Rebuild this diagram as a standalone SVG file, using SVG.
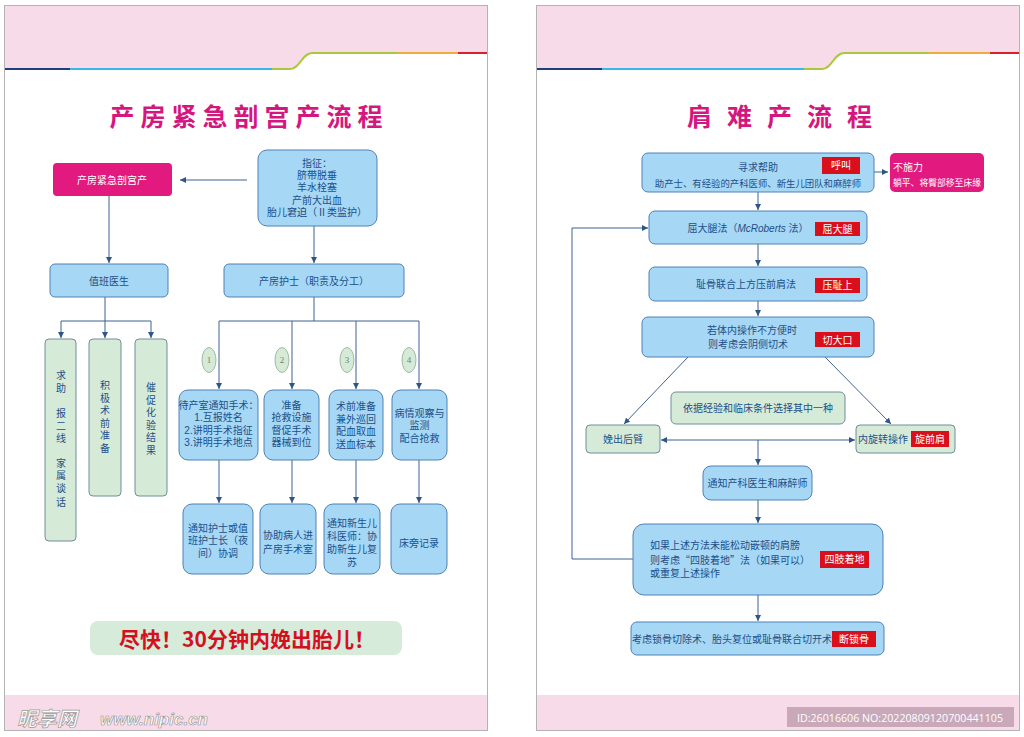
<svg xmlns="http://www.w3.org/2000/svg" width="1024" height="737" viewBox="0 0 1024 737">
<defs>
<style>
.bx{fill:#a6d7f4;stroke:#4f80b6;stroke-width:1}
.gn{fill:#d6ebd7;stroke:#6f8f9a;stroke-width:1}
.mg{fill:#e2197f}
.tag{fill:#d9101c}
.t{font-family:"Liberation Sans","Noto Sans CJK SC",sans-serif;font-size:10px;fill:#1d4f8a;text-anchor:middle}
.tl{text-anchor:start}
.tw{fill:#ffffff}
.cj{font-family:"Noto Sans CJK SC",sans-serif}
.ln{stroke:#3d6291;stroke-width:1;fill:none}
.num{font-family:"Liberation Serif",serif;font-size:9px;fill:#6b7f6b;text-anchor:middle}
.ell{fill:#d6ebd7;stroke:#8fa897;stroke-width:0.8}
.title{font-family:"Noto Sans CJK SC",sans-serif;font-weight:bold;font-size:25px;fill:#d4177e;text-anchor:middle}
</style>
<marker id="ah" markerWidth="6" markerHeight="6" refX="6" refY="3" orient="auto-start-reverse" markerUnits="userSpaceOnUse">
<path d="M0,0 L6,3 L0,6 Z" fill="#2f5587"/>
</marker>
<g id="frame">
<rect x="4.5" y="5.5" width="483" height="725" fill="#ffffff" stroke="#b3b3b3" stroke-width="1"/>
<path d="M5,6 H487 V53 H312 C302,53 300,69 290,69 H5 Z" fill="#f8dbe8"/>
<path d="M5,69 H70" stroke="#1f3f7a" stroke-width="2" fill="none"/>
<path d="M70,69 H272" stroke="#3cb6e8" stroke-width="2" fill="none"/>
<path d="M272,69 H290 C300,69 302,53 312,53 H397" stroke="#a9c83c" stroke-width="2" fill="none"/>
<path d="M397,53 H458" stroke="#f2aa3c" stroke-width="2" fill="none"/>
<path d="M458,53 H487" stroke="#d8212f" stroke-width="2" fill="none"/>
<rect x="5" y="695" width="482" height="35" fill="#f8dbe8"/>
</g>
</defs>
<rect width="1024" height="737" fill="#ffffff"/>
<use href="#frame"/>
<use href="#frame" transform="translate(532,0)"/>

<!-- LEFT PANEL -->
<text class="title" x="249" y="126" letter-spacing="6">产房紧急剖宫产流程</text>

<g id="connectors-left">
<path class="ln" d="M247,180 H180" marker-end="url(#ah)"/>
<path class="ln" d="M314,226 V263" marker-end="url(#ah)"/>
<path class="ln" d="M109,196 V263" marker-end="url(#ah)"/>
<path class="ln" d="M105,297 V321 M61,321 H151"/>
<path class="ln" d="M61,321 V338" marker-end="url(#ah)"/>
<path class="ln" d="M105,321 V338" marker-end="url(#ah)"/>
<path class="ln" d="M151,321 V338" marker-end="url(#ah)"/>
<path class="ln" d="M314,297 V321 M219,321 H419"/>
<path class="ln" d="M219,321 V389" marker-end="url(#ah)"/>
<path class="ln" d="M292,321 V389" marker-end="url(#ah)"/>
<path class="ln" d="M356,321 V389" marker-end="url(#ah)"/>
<path class="ln" d="M419,321 V389" marker-end="url(#ah)"/>
<path class="ln" d="M219,460 V503" marker-end="url(#ah)"/>
<path class="ln" d="M292,460 V503" marker-end="url(#ah)"/>
<path class="ln" d="M356,460 V503" marker-end="url(#ah)"/>
<path class="ln" d="M419,460 V503" marker-end="url(#ah)"/>
</g>

<g id="n-cs">
<rect class="mg" x="53" y="163" width="119" height="33" rx="4"/>
<text class="t tw" x="112" y="183.5">产房紧急剖宫产</text>
</g>
<g id="n-ind">
<rect class="bx" x="258" y="150" width="119" height="76" rx="9"/>
<text class="t" x="317" y="166.5">指征：<tspan x="317" dy="12">脐带脱垂</tspan><tspan x="317" dy="12.5">羊水栓塞</tspan><tspan x="317" dy="12.5">产前大出血</tspan><tspan x="317" dy="12">胎儿窘迫（Ⅱ类监护）</tspan></text>
</g>
<g id="n-doc">
<rect class="bx" x="50" y="264" width="118" height="33" rx="5"/>
<text class="t" x="109" y="284.5">值班医生</text>
</g>
<g id="n-nurse">
<rect class="bx" x="224" y="264" width="180" height="33" rx="5"/>
<text class="t" x="314" y="284.5">产房护士（职责及分工）</text>
</g>
<g id="n-g1">
<rect class="gn" x="45" y="339" width="31" height="202" rx="4"/>
<text class="t" x="61" y="379">求<tspan x="61" dy="13">助</tspan><tspan x="61" dy="25">报</tspan><tspan x="61" dy="13">二</tspan><tspan x="61" dy="12">线</tspan><tspan x="61" dy="25">家</tspan><tspan x="61" dy="12">属</tspan><tspan x="61" dy="13">谈</tspan><tspan x="61" dy="14">话</tspan></text>
</g>
<g id="n-g2">
<rect class="gn" x="89" y="339" width="32" height="157" rx="4"/>
<text class="t" x="105" y="389">积<tspan x="105" dy="12.5">极</tspan><tspan x="105" dy="12.5">术</tspan><tspan x="105" dy="12.5">前</tspan><tspan x="105" dy="12.5">准</tspan><tspan x="105" dy="12.5">备</tspan></text>
</g>
<g id="n-g3">
<rect class="gn" x="135" y="339" width="32" height="157" rx="4"/>
<text class="t" x="151" y="391">催<tspan x="151" dy="12.5">促</tspan><tspan x="151" dy="12.5">化</tspan><tspan x="151" dy="12.5">验</tspan><tspan x="151" dy="12.5">结</tspan><tspan x="151" dy="12.5">果</tspan></text>
</g>
<g id="n-e1"><ellipse class="ell" cx="209" cy="360" rx="7" ry="12.5"/><text class="num" x="209" y="363">1</text></g>
<g id="n-e2"><ellipse class="ell" cx="282" cy="360" rx="7" ry="12.5"/><text class="num" x="282" y="363">2</text></g>
<g id="n-e3"><ellipse class="ell" cx="347" cy="360" rx="7" ry="12.5"/><text class="num" x="347" y="363">3</text></g>
<g id="n-e4"><ellipse class="ell" cx="409" cy="360" rx="7" ry="12.5"/><text class="num" x="409" y="363">4</text></g>
<g id="n-a1">
<rect class="bx" x="179" y="390" width="79" height="70" rx="9"/>
<text class="t" x="218.5" y="408.5" font-size="9">待产室通知手术：<tspan x="218.5" dy="12.5">1.互报姓名</tspan><tspan x="218.5" dy="12.5">2.讲明手术指征</tspan><tspan x="218.5" dy="12.5">3.讲明手术地点</tspan></text>
</g>
<g id="n-b1">
<rect class="bx" x="264" y="390" width="55" height="70" rx="9"/>
<text class="t" x="291.5" y="408.5" font-size="9.6">准备<tspan x="291.5" dy="12.5">抢救设施</tspan><tspan x="291.5" dy="12.5">督促手术</tspan><tspan x="291.5" dy="12.5">器械到位</tspan></text>
</g>
<g id="n-c1">
<rect class="bx" x="329" y="390" width="54" height="70" rx="9"/>
<text class="t" x="356" y="410" font-size="9.6">术前准备<tspan x="356" dy="12.5">兼外巡回</tspan><tspan x="356" dy="12.5">配血取血</tspan><tspan x="356" dy="12.5">送血标本</tspan></text>
</g>
<g id="n-d1">
<rect class="bx" x="392" y="390" width="55" height="70" rx="9"/>
<text class="t" x="419.5" y="416.5" font-size="9.6">病情观察与<tspan x="419.5" dy="12.5">监测</tspan><tspan x="419.5" dy="12.5">配合抢救</tspan></text>
</g>
<g id="n-a2">
<rect class="bx" x="183" y="504" width="70" height="70" rx="9"/>
<text class="t" x="218" y="531.5" font-size="9.6">通知护士或值<tspan x="218" dy="12.5">班护士长（夜</tspan><tspan x="218" dy="12.5">间）协调</tspan></text>
</g>
<g id="n-b2">
<rect class="bx" x="260" y="504" width="56" height="70" rx="9"/>
<text class="t" x="288" y="538.5" font-size="9.6">协助病人进<tspan x="288" dy="14">产房手术室</tspan></text>
</g>
<g id="n-c2">
<rect class="bx" x="324" y="504" width="56" height="70" rx="9"/>
<text class="t" x="352" y="526.5" font-size="9.6">通知新生儿<tspan x="352" dy="13">科医师：协</tspan><tspan x="352" dy="13">助新生儿复</tspan><tspan x="352" dy="13">苏</tspan></text>
</g>
<g id="n-d2">
<rect class="bx" x="391" y="504" width="56" height="70" rx="9"/>
<text class="t" x="419" y="546.5">床旁记录</text>
</g>
<g id="n-banner">
<rect x="90" y="621" width="312" height="34" rx="8" fill="#d6ebd9"/>
<text x="247" y="647" font-family="Noto Sans CJK SC, sans-serif" font-weight="bold" font-size="21" fill="#d4101f" text-anchor="middle">尽快！30分钟内娩出胎儿！</text>
</g>
<g id="watermark">
<text x="17" y="726" font-family="Noto Sans CJK SC, sans-serif" font-weight="bold" font-style="italic" font-size="20" fill="#ffffff" stroke="#9a9a9a" stroke-width="0.7">昵享网</text>
<text x="100" y="725" font-family="Liberation Sans, sans-serif" font-weight="bold" font-style="italic" font-size="17" fill="#ffffff" stroke="#9a9a9a" stroke-width="0.7">www.nipic.cn</text>
</g>

<!-- RIGHT PANEL -->
<text class="title" x="787" y="126" letter-spacing="15">肩难产流程</text>

<g id="connectors-right">
<path class="ln" d="M874,172 H888" marker-end="url(#ah)"/>
<path class="ln" d="M758,192 V210" marker-end="url(#ah)"/>
<path class="ln" d="M758,244 V266" marker-end="url(#ah)"/>
<path class="ln" d="M758,301 V316" marker-end="url(#ah)"/>
<path class="ln" d="M688,357 L624,424" marker-end="url(#ah)"/>
<path class="ln" d="M825,357 L891,424" marker-end="url(#ah)"/>
<path class="ln" d="M661,440 H855" marker-start="url(#ah)" marker-end="url(#ah)"/>
<path class="ln" d="M758,440 V465" marker-end="url(#ah)"/>
<path class="ln" d="M758,500 V523" marker-end="url(#ah)"/>
<path class="ln" d="M758,595 V621" marker-end="url(#ah)"/>
<path class="ln" d="M633,559 H572 V228 H648" marker-end="url(#ah)"/>
</g>

<g id="r-help">
<rect class="bx" x="642" y="153" width="232" height="39" rx="6"/>
<text class="t" x="758" y="170.5">寻求帮助<tspan x="758" dy="16" font-size="9.4">助产士、有经验的产科医师、新生儿团队和麻醉师</tspan></text>
<rect class="tag" x="822" y="157" width="38" height="17"/>
<text class="t tw" x="841" y="169">呼叫</text>
</g>
<g id="r-nopush">
<rect class="mg" x="890" y="153" width="94" height="39" rx="5"/>
<text class="t tw tl" x="893" y="170.5">不施力<tspan x="893" dy="15.5" font-size="8.8">躺平、将臀部移至床缘</tspan></text>
</g>
<g id="r-mcr">
<rect class="bx" x="649" y="211" width="218" height="33" rx="6"/>
<text class="t" x="748" y="231.5">屈大腿法（<tspan font-style="italic">McRoberts</tspan> 法）</text>
<rect class="tag" x="815" y="222" width="45" height="14"/>
<text class="t tw" x="837.5" y="232.5">屈大腿</text>
</g>
<g id="r-supra">
<rect class="bx" x="649" y="267" width="218" height="34" rx="6"/>
<text class="t" x="746" y="287.5">耻骨联合上方压前肩法</text>
<rect class="tag" x="815" y="278" width="45" height="15"/>
<text class="t tw" x="837.5" y="289">压耻上</text>
</g>
<g id="r-epis">
<rect class="bx" x="642" y="317" width="232" height="40" rx="6"/>
<text class="t" x="752" y="333.5">若体内操作不方便时<tspan x="748" dy="14">则考虑会阴侧切术</tspan></text>
<rect class="tag" x="815" y="332" width="45" height="15"/>
<text class="t tw" x="837.5" y="343.5">切大口</text>
</g>
<g id="r-choose">
<rect class="gn" x="671" y="392" width="174" height="32" rx="5"/>
<text class="t" x="758" y="411.5">依据经验和临床条件选择其中一种</text>
</g>
<g id="r-post">
<rect class="gn" x="586" y="425" width="74" height="28" rx="4"/>
<text class="t" x="623" y="442.5">娩出后臂</text>
</g>
<g id="r-rot">
<rect class="gn" x="856" y="425" width="99" height="28" rx="4"/>
<text class="t" x="883" y="442.5">内旋转操作</text>
<rect class="tag" x="911" y="431" width="38" height="16"/>
<text class="t tw" x="930" y="442.5">旋前肩</text>
</g>
<g id="r-notify">
<rect class="bx" x="703" y="466" width="109" height="34" rx="8"/>
<text class="t" x="757.5" y="486.5">通知产科医生和麻醉师</text>
</g>
<g id="r-allfours">
<rect class="bx" x="633" y="524" width="250" height="71" rx="11"/>
<text class="t tl" x="650" y="548.5">如果上述方法未能松动嵌顿的肩膀<tspan x="650" dy="15">则考虑<tspan class="cj">“</tspan>四肢着地<tspan class="cj">”</tspan>法（如果可以）</tspan><tspan x="650" dy="13">或重复上述操作</tspan></text>
<rect class="tag" x="820" y="551" width="49" height="17"/>
<text class="t tw" x="844.5" y="563">四肢着地</text>
</g>
<g id="r-last">
<rect class="bx" x="631" y="622" width="253" height="33" rx="6"/>
<text class="t" x="732" y="642.5" font-size="9.4">考虑锁骨切除术、胎头复位或耻骨联合切开术</text>
<rect class="tag" x="832" y="631" width="44" height="16"/>
<text class="t tw" x="854" y="642.5">断锁骨</text>
</g>
<g id="id-badge">
<rect x="787" y="707" width="227" height="20" fill="#c9a9b9"/>
<text x="797" y="721.5" font-family="Open Sans, sans-serif" font-size="11.5" fill="#ffffff" textLength="206" lengthAdjust="spacingAndGlyphs">ID:26016606 NO:20220809120700441105</text>
</g>
</svg>
